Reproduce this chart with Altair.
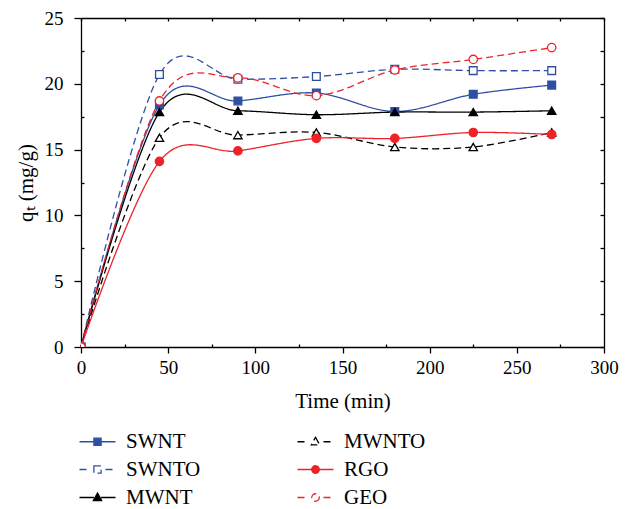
import altair as alt
import pandas as pd

# ---- data ----
time = [0, 45, 90, 135, 180, 225, 270]
swnt = [0, 18.4, 18.7, 19.3, 17.9, 19.2, 19.9]
swnto = [0, 20.7, 20.35, 20.55, 21.1, 21.0, 21.0]
mwnt = [0, 17.85, 17.95, 17.65, 17.85, 17.85, 17.95]
mwnto = [0, 15.9, 16.1, 16.3, 15.2, 15.2, 16.3]
rgo = [0, 14.1, 14.9, 15.85, 15.85, 16.3, 16.15]
geo = [0, 18.7, 20.45, 19.1, 21.05, 21.85, 22.75]

series_values = {"SWNT": swnt, "SWNTO": swnto, "MWNT": mwnt,
                 "MWNTO": mwnto, "RGO": rgo, "GEO": geo}
# legend fills column by column, three rows
legend_order = ["SWNT", "SWNTO", "MWNT", "MWNTO", "RGO", "GEO"]

rows = []
for name, vals in series_values.items():
    for t, v in zip(time, vals):
        rows.append({"time": t, "q": v, "series": name})
df = pd.DataFrame(rows)

# ---- styles ----
F = "Liberation Serif"
BLUE = "#2F50A2"
RED = "#EE2229"
BLACK = "#000000"
W, H = 523, 329

stroke_scale = alt.Scale(domain=legend_order, range=[BLUE, BLUE, BLACK, BLACK, RED, RED])
fill_scale = alt.Scale(domain=legend_order, range=[BLUE, "white", BLACK, "white", RED, "white"])
dash_scale = alt.Scale(domain=legend_order, range=[[1, 0], [7, 4], [1, 0], [7, 4], [1, 0], [7, 4]])

# legend symbols: line + marker drawn as one path (unit = 8 px at symbolSize 256)
sq = "M-0.45,-0.45H0.45V0.45H-0.45Z"
tri = "M0,-0.56L0.52,0.38H-0.52Z"
cir = "M0.47,0A0.47,0.47,0,1,1,-0.47,0A0.47,0.47,0,1,1,0.47,0Z"
solid = "M-2.25,0H-0.45M0.45,0H2.25"
dashed = "M-2.25,0H-1M1,0H2.25"
shape_scale = alt.Scale(domain=legend_order, range=[
    solid + sq, dashed + sq, solid + tri, dashed + tri, solid + cir, dashed + cir])

xs = alt.Scale(domain=[0, 300], nice=False, zero=False)
ys = alt.Scale(domain=[0, 25], nice=False, zero=False)

common = dict(domainColor=BLACK, tickColor=BLACK, domainWidth=1.3, tickWidth=1.3,
              grid=False, labelColor=BLACK, titleColor=BLACK)

x_main = alt.Axis(orient="bottom", values=list(range(0, 301, 50)), tickSize=6,
                  labelFont=F, labelFontSize=19, labelPadding=5, labelFlush=False,
                  title="Time (min)", titleFont=F, titleFontSize=21,
                  titleFontWeight="normal", titlePadding=13, format="d", **common)
y_main = alt.Axis(orient="left", values=list(range(0, 26, 5)), tickSize=7,
                  labelFont=F, labelFontSize=19, labelPadding=11, labelFlush=False,
                  title="qₜ (mg/g)", titleFont=F, titleFontSize=21,
                  titleFontWeight="normal", titlePadding=8, format="d", **common)
x_minor_bottom = alt.Axis(orient="top", offset=-H, values=list(range(25, 300, 50)),
                          tickSize=3, labels=False, domain=False, title=None, **common)
y_minor_left = alt.Axis(orient="right", offset=-W, values=[2.5, 7.5, 12.5, 17.5, 22.5],
                        tickSize=3, labels=False, domain=False, title=None, **common)
x_top = alt.Axis(orient="bottom", offset=-H, values=list(range(0, 301, 25)),
                 tickSize=3, labels=False, domain=True, title=None, **common)
y_right = alt.Axis(orient="left", offset=-W, values=[i * 2.5 for i in range(11)],
                   tickSize=4, labels=False, domain=True, title=None, **common)

base = alt.Chart(df)

legend_layer = base.transform_filter("false").mark_point(
    filled=True, opacity=1, strokeWidth=1.3
).encode(
    x=alt.X("time:Q", scale=xs, axis=None),
    y=alt.Y("q:Q", scale=ys, axis=None),
    stroke=alt.Stroke("series:N", scale=stroke_scale,
                      legend=alt.Legend(orient="none", legendX=-2, legendY=413,
                                        columns=2, title=None, padding=0,
                                        labelFont=F, labelFontSize=21, labelColor=BLACK,
                                        symbolOffset=8, labelOffset=18, symbolSize=256,
                                        symbolStrokeWidth=1.3,
                                        columnPadding=93, rowPadding=6)),
    fill=alt.Fill("series:N", scale=fill_scale),
    shape=alt.Shape("series:N", scale=shape_scale),
)

lines = base.mark_line(interpolate="cardinal", strokeWidth=1.3).encode(
    x=alt.X("time:Q", scale=xs, axis=x_main),
    y=alt.Y("q:Q", scale=ys, axis=y_main),
    stroke=alt.Stroke("series:N", scale=stroke_scale),
    strokeDash=alt.StrokeDash("series:N", scale=dash_scale, legend=None),
    order="time:Q",
)


def pts(shape, names, xaxis, yaxis, size):
    return base.transform_filter(
        alt.FieldOneOfPredicate(field="series", oneOf=names)
    ).mark_point(shape=shape, filled=True, opacity=1, size=size, strokeWidth=1.3, clip=True).encode(
        x=alt.X("time:Q", scale=xs, axis=xaxis),
        y=alt.Y("q:Q", scale=ys, axis=yaxis),
        stroke=alt.Stroke("series:N", scale=stroke_scale),
        fill=alt.Fill("series:N", scale=fill_scale),
    )


squares = pts("square", ["SWNT", "SWNTO"], x_minor_bottom, y_minor_left, 60)
triangles = pts("triangle-up", ["MWNT", "MWNTO"], x_top, y_right, 70)
circles = pts("circle", ["RGO", "GEO"], None, None, 70)

chart = alt.layer(legend_layer, lines, squares, triangles, circles).resolve_axis(
    x="independent", y="independent"
).properties(
    width=W, height=H, autosize="none",
    padding={"left": 73, "top": 10, "right": 22, "bottom": 162},
).configure_view(strokeWidth=0)

chart.save("out.html", embed_options={"renderer": "svg", "actions": False})
